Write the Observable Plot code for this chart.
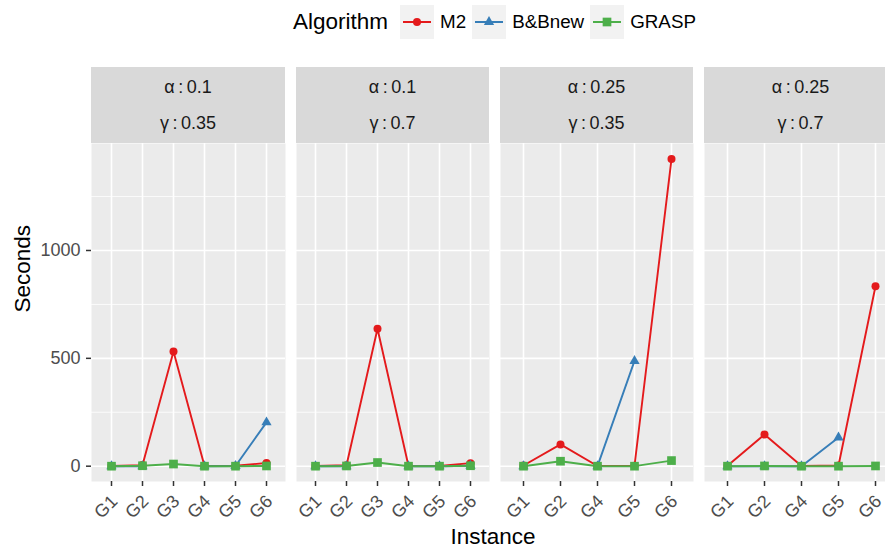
<!DOCTYPE html>
<html><head><meta charset="utf-8">
<script src="https://cdn.jsdelivr.net/npm/d3@7"></script>
<script src="https://cdn.jsdelivr.net/npm/@observablehq/plot@0.6"></script>
<style>
body{margin:0;background:#fff;font-family:"Liberation Sans",Arial,sans-serif;}
#chart{position:relative;width:885px;height:553px;overflow:hidden;background:#fff;}
.strip{position:absolute;background:#d9d9d9;color:#1a1a1a;font-size:18px;}
.strip div{position:absolute;left:0;right:0;text-align:center;height:20px;line-height:20px;white-space:nowrap;}
.lab{position:absolute;white-space:nowrap;color:#000;}
</style></head><body><div id="chart"></div>
<script>
// ---- data ----
const seriesNames = ["M2", "B&Bnew", "GRASP"];
const seriesColors = ["#E41A1C", "#377EB8", "#4DAF4A"];
const seriesSymbols = ["circle", "triangle", "square"];
const alphaLabels = ["0.1", "0.1", "0.25", "0.25"];
const gammaLabels = ["0.35", "0.7", "0.35", "0.7"];
const instances = [
  ["G1", "G2", "G3", "G4", "G5", "G6"],
  ["G1", "G2", "G3", "G4", "G5", "G6"],
  ["G1", "G2", "G4", "G5", "G6"],
  ["G1", "G2", "G4", "G5", "G6"]
];
const m2Seconds = [[1, 5, 532, 1, 2, 15], [1, 4, 637, 1, 1, 14], [3, 101, 1, 2, 1424], [2, 147, 1, 3, 834]];
const bbnewSeconds = [[0, 0, null, 0, 1, 203], [0, 0, null, 0, 0, 2], [0, null, 0, 488, null], [0, 0, 0, 133, null]];
const graspSeconds = [[0, 2, 10, 0, 0, 1], [0, 1, 17, 0, 0, 2], [0, 23, 0, 0, 26], [0, 1, 0, 0, 1]];
const yTicks = [0, 500, 1000];
const yMinorTicks = [250, 750, 1250];
const yDomain = [-71, 1496];

// ---- layout ----
const chart = document.getElementById("chart");
const panelLeft = [91, 296, 500, 704];
const panelWidth = [194, 193, 193, 193];
const stripTop = 67, panelTop = 143, panelBottom = 481, svgBottom = 553;
const side = 14;
const allSeconds = [m2Seconds, bbnewSeconds, graspSeconds];
const symR = {circle: 4, triangle: 3.8, square: 4.9};

for (let p = 0; p < 4; p++) {
  const rows = [];
  seriesNames.forEach((name, s) => instances[p].forEach((g, k) =>
    rows.push({algorithm: name, instance: g, seconds: allSeconds[s][p][k]})));
  const ml = p === 0 ? panelLeft[0] : side;
  const mr = side;
  const marks = [
    Plot.frame({fill: "#ebebeb", stroke: null}),
    Plot.ruleY(yMinorTicks, {stroke: "#ffffff", strokeWidth: 0.8}),
    Plot.ruleY(yTicks, {stroke: "#ffffff", strokeWidth: 1.6}),
    Plot.ruleX(instances[p], {stroke: "#ffffff", strokeWidth: 1.6}),
    Plot.line(rows, {x: "instance", y: "seconds", z: "algorithm", stroke: "algorithm", strokeWidth: 1.9}),
    ...seriesNames.map((name, s) => Plot.dot(rows.filter(d => d.algorithm === name), {
      x: "instance", y: "seconds", fill: "algorithm", symbol: "algorithm", r: symR[seriesSymbols[s]], stroke: null
    })),
    Plot.axisX({tickSize: 5, fill: "none", stroke: "#333333", strokeWidth: 1.5, label: null}),
    Plot.text(instances[p], {x: d => d, text: d => d, frameAnchor: "bottom", rotate: -45, textAnchor: "end", lineAnchor: "top", dx: -2, dy: 12, fontSize: 18, fill: "#4d4d4d"})
  ];
  if (p === 0) {
    marks.push(Plot.axisY(yTicks, {tickSize: 5, tickPadding: 6, fontSize: 18, fill: "#4d4d4d", stroke: "#333333", strokeWidth: 1.5, label: null, tickFormat: d => String(d)}));
    marks.push(Plot.text(["Seconds"], {frameAnchor: "left", rotate: -90, dx: -69, fontSize: 22.5, fill: "#000000"}));
  }
  const svg = Plot.plot({
    width: ml + panelWidth[p] + mr,
    height: svgBottom - panelTop,
    marginTop: 0, marginBottom: svgBottom - panelBottom,
    marginLeft: ml, marginRight: mr,
    x: {type: "point", domain: instances[p], padding: 0.6},
    y: {domain: yDomain, axis: p === 0 ? undefined : null},
    color: {domain: seriesNames, range: seriesColors},
    symbol: {domain: seriesNames, range: seriesSymbols},
    style: {fontFamily: "Liberation Sans, Arial, sans-serif", fontSize: "18px", background: "transparent", overflow: "visible"},
    marks
  });
  svg.style.position = "absolute";
  svg.style.left = (panelLeft[p] - ml) + "px";
  svg.style.top = panelTop + "px";
  chart.append(svg);

  const strip = document.createElement("div");
  strip.className = "strip";
  Object.assign(strip.style, {left: panelLeft[p] + "px", top: stripTop + "px", width: panelWidth[p] + "px", height: (panelTop - stripTop) + "px"});
  const l1 = document.createElement("div"); l1.style.top = "10px"; l1.textContent = "\u03b1\u2009:\u2009" + alphaLabels[p];
  const l2 = document.createElement("div"); l2.style.top = "46px"; l2.textContent = "\u03b3\u2009:\u2009" + gammaLabels[p];
  strip.append(l1, l2);
  chart.append(strip);
}

// x title
const xt = document.createElement("div");
xt.className = "lab";
Object.assign(xt.style, {left: "393px", width: "200px", textAlign: "center", top: "524px", fontSize: "22.5px", lineHeight: "26px"});
xt.textContent = "Instance";
chart.append(xt);

// legend
const leg = document.createElement("div");
Object.assign(leg.style, {position: "absolute", left: "293px", top: "5px", height: "34px", display: "flex", alignItems: "center"});
const lt = document.createElement("span");
Object.assign(lt.style, {fontSize: "22.5px", marginRight: "12px", color: "#000"});
lt.textContent = "Algorithm";
leg.append(lt);
const d3sym = {circle: d3.symbolCircle, triangle: d3.symbolTriangle, square: d3.symbolSquare};
seriesNames.forEach((name, s) => {
  const ns = "http://www.w3.org/2000/svg";
  const key = document.createElementNS(ns, "svg");
  key.setAttribute("width", 34); key.setAttribute("height", 34);
  key.style.marginRight = "6px";
  const bg = document.createElementNS(ns, "rect");
  bg.setAttribute("width", 34); bg.setAttribute("height", 34); bg.setAttribute("fill", "#f2f2f2");
  const ln = document.createElementNS(ns, "line");
  ln.setAttribute("x1", 3); ln.setAttribute("x2", 31); ln.setAttribute("y1", 17); ln.setAttribute("y2", 17);
  ln.setAttribute("stroke", seriesColors[s]); ln.setAttribute("stroke-width", 2);
  const pt = document.createElementNS(ns, "path");
  const r = symR[seriesSymbols[s]];
  pt.setAttribute("d", d3.symbol(d3sym[seriesSymbols[s]], Math.PI * r * r)());
  pt.setAttribute("transform", "translate(17,17)");
  pt.setAttribute("fill", seriesColors[s]);
  key.append(bg, ln, pt);
  const tx = document.createElement("span");
  Object.assign(tx.style, {fontSize: "18.8px", marginRight: "6px", color: "#000"});
  tx.textContent = name;
  leg.append(key, tx);
});
chart.append(leg);
</script></body></html>
